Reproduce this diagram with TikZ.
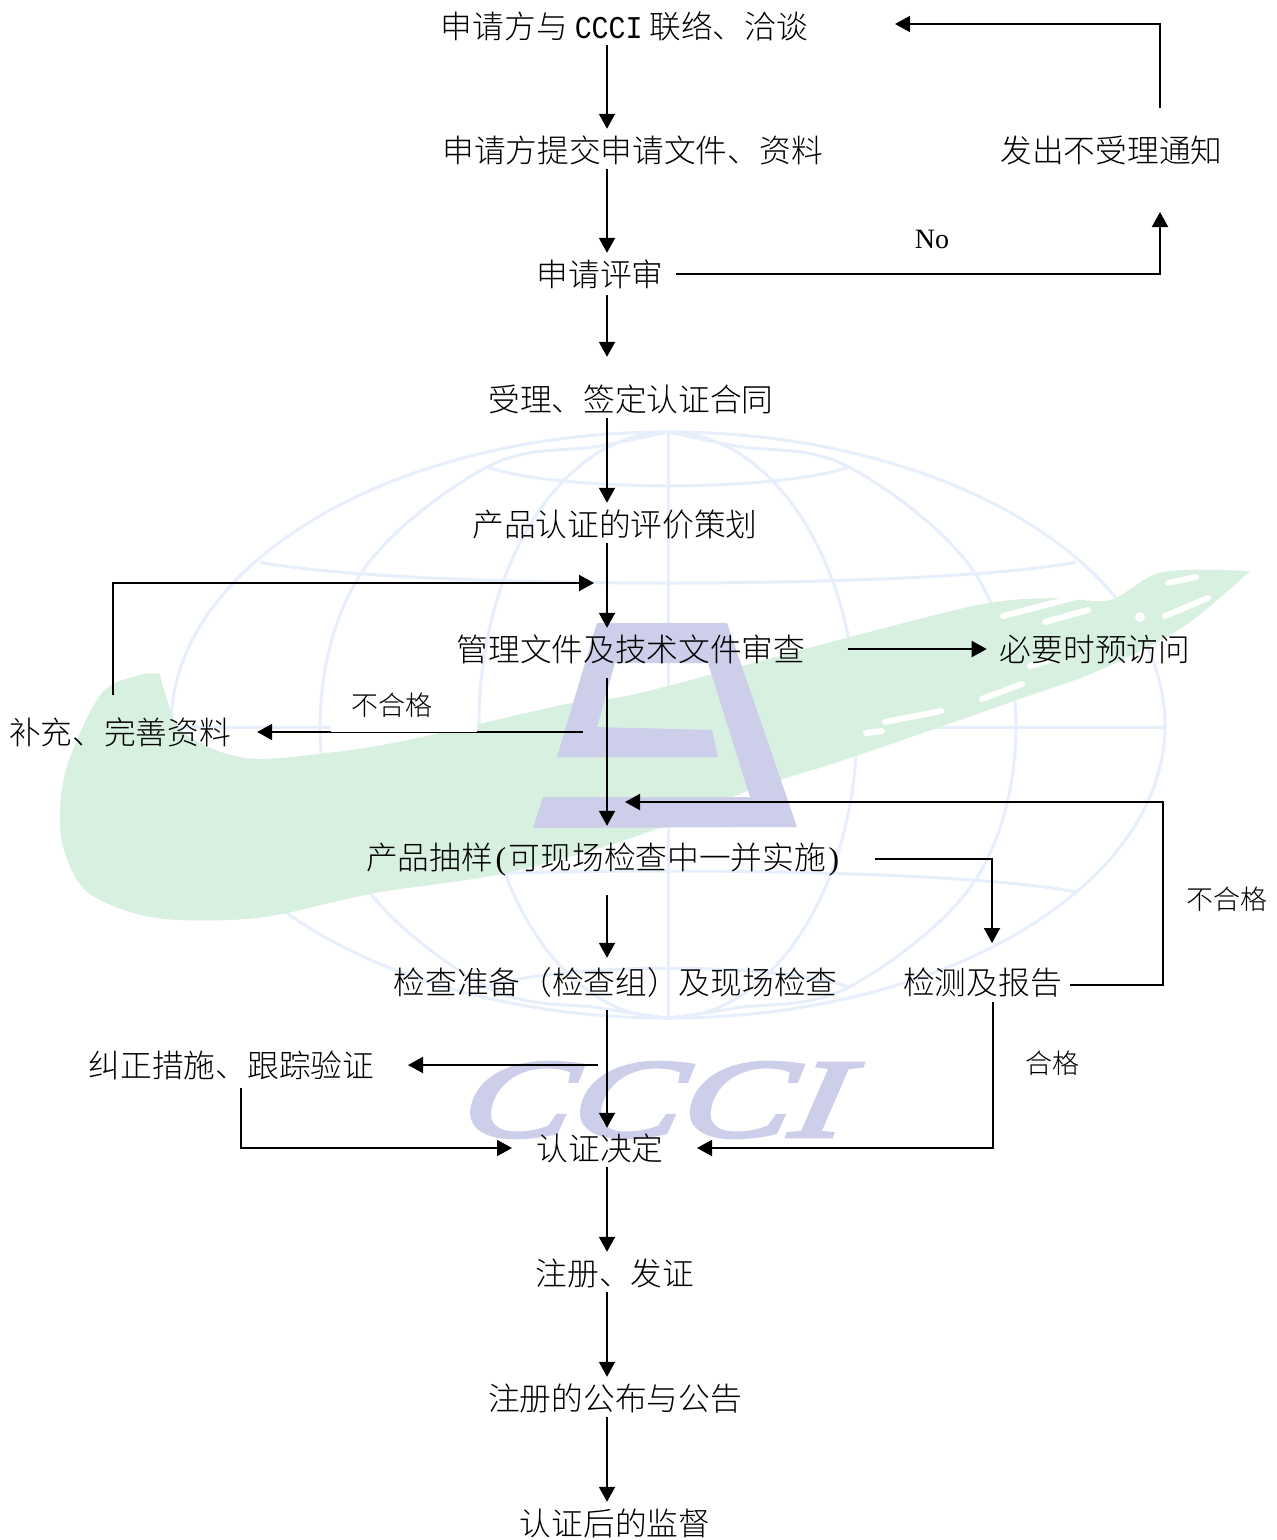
\documentclass[tikz,border=0pt]{standalone}
\usepackage{fontspec}
\usetikzlibrary{arrows.meta}
\setmainfont{Noto Sans CJK SC Light}
\newfontfamily\latinmono{Liberation Mono}[FakeStretch=0.89]
\newfontfamily\latinserif{Liberation Serif}
\newfontfamily\logoserif{Liberation Serif Italic}[FakeBold=3,FakeSlant=0.12]
\definecolor{globeblue}{HTML}{E7EFFC}
\definecolor{swoosh}{HTML}{D8F0E0}
\definecolor{logoblue}{HTML}{CDCEE9}
\newcommand{\hw}[1]{{\latinmono #1}}
\newcommand{\hp}[1]{\makebox[16pt]{\latinserif #1}}
\tikzset{
  x=1pt,y=-1pt,
  lbl/.style={inner sep=0pt,font=\fontsize{31.7}{36}\selectfont,text height=28pt,text depth=4pt},
  smalllbl/.style={inner sep=0pt,font=\fontsize{27}{32}\selectfont,text height=24pt,text depth=3pt},
  flow/.style={line width=2pt,-{Triangle[length=15pt,width=16pt]},shorten <=3pt,shorten >=5pt},
  free/.style={line width=2pt,-{Triangle[length=15pt,width=16pt]}},
  globeline/.style={globeblue,line width=3pt},
  streak/.style={white,line width=6pt,line cap=round},
}
\begin{document}
\begin{tikzpicture}
\useasboundingbox (0,0) rectangle (1277,1540);
\fill[white] (0,0) rectangle (1277,1540);
% logo: globe
\draw[globeline] (668,725) ellipse [x radius=497,y radius=293];
\draw[globeline] plot[smooth,tension=.6] coordinates {(668,432) (600,446) (487,467) (360,575) (320,727) (360,879) (487,987) (600,1008) (668,1018)};
\draw[globeline] plot[smooth,tension=.6] coordinates {(668,432) (736,446) (849,467) (976,575) (1016,727) (976,879) (849,987) (736,1008) (668,1018)};
\draw[globeline] (668,725) ellipse [x radius=189,y radius=293];
\draw[globeline] (668,432) -- (668,1018);
\draw[globeline] (171,727) -- (1165,727);
\draw[globeline] (260,562) .. controls (400,590) and (936,590) .. (1076,562);
\draw[globeline] (260,892) .. controls (400,864) and (936,864) .. (1076,892);
\draw[globeline] (487,467) .. controls (560,492) and (776,492) .. (849,467);
\draw[globeline] (487,987) .. controls (560,962) and (776,962) .. (849,987);
% logo: swoosh
\fill[swoosh] plot[smooth,tension=.55] coordinates {(1250,571) (1163,572) (1110,600) (1057,598) (983,604) (850,637) (640,693) (571,703) (408,740) (326,753) (245,758) (184,733) (165,693) (160,674)}
  -- plot[smooth,tension=.55] coordinates {(160,674) (140,675) (102,693) (69,760) (60,810) (64,850) (85,890) (130,912) (180,920) (265,917) (375,893) (506,873) (640,835) (750,790) (850,758) (1017,700) (1100,670) (1183,627) (1250,571)} -- cycle;
\draw[streak] (1003,616) -- (1088,594);
\draw[streak] (1045,622) -- (1088,610);
\draw[streak] (1165,616) -- (1208,598);
\draw[streak] (1168,583) -- (1196,577);
\draw[streak] (982,699) -- (1022,684);
\draw[streak] (885,722) -- (941,711);
\draw[streak] (866,733) -- (882,731);
\draw[streak] (1030,666) -- (1050,660);
\fill[white] (1140,617) circle [radius=5];
% logo: letter
\fill[logoblue] (597,623) -- (727,623) -- (797,827) -- (533,828) -- (543,797) -- (750,797) -- (708,663) -- (615,663) -- (597,727) -- (712,730) -- (718,757) -- (557,757) -- cycle;
\node[inner sep=0pt,text=logoblue,xscale=1.47,font=\fontsize{112}{112}\logoserif\selectfont] (logoname) at (651,1100) {CCCI};
% nodes
\coordinate (axis) at (607,0);
\node[lbl] (n1) at (624.5,26) {申请方与 \hw{CCCI} 联络、洽谈};
\node[lbl] (n2) at (632.5,150) {申请方提交申请文件、资料};
\node[lbl] (n3) at (600,274) {申请评审};
\node[lbl] (n4) at (631,399) {受理、签定认证合同};
\node[lbl] (n5) at (615,524) {产品认证的评价策划};
\node[lbl] (n6) at (631,649) {管理文件及技术文件审查};
\node[lbl] (n7) at (604,857) {产品抽样\hp{(}可现场检查中一并实施\hp{)}};
\node[lbl] (n8) at (615.5,982) {检查准备（检查组）及现场检查};
\node[lbl] (n9) at (600,1148) {认证决定};
\node[lbl] (n10) at (615,1273) {注册、发证};
\node[lbl] (n11) at (615,1398) {注册的公布与公告};
\node[lbl] (n12) at (615,1523) {认证后的监督};
\node[lbl] (r2) at (1111.5,150) {发出不受理通知};
\node[lbl] (r6) at (1095,649) {必要时预访问};
\node[lbl] (r5) at (120,732) {补充、完善资料};
\node[lbl] (r8) at (231.5,1065) {纠正措施、跟踪验证};
\node[lbl] (t8) at (982.5,982) {检测及报告};
% connector ends
\coordinate (noUp) at (1160,212);
\coordinate (rejStart) at (1160,108);
\coordinate (rejEnd) at (895,24);
\coordinate (suppStart) at (113,695);
\coordinate (suppEnd) at (594,583);
\coordinate (failStart) at (583,732);
\coordinate (sampStart) at (875,859);
\coordinate (sampEnd) at (992,943);
\coordinate (testStart) at (1070,985);
\coordinate (testMid) at (1163,802);
\coordinate (testEnd) at (625,802);
\coordinate (passStart) at (993,1002);
\coordinate (passEnd) at (697,1148);
\coordinate (corrStart) at (598,1065);
\coordinate (corrEnd) at (408,1065);
\coordinate (trackStart) at (241,1088);
\coordinate (trackEnd) at (512,1148);
% main column
\draw[flow] (n1.south -| axis) -- (n2.north -| axis);
\draw[flow] (n2.south -| axis) -- (n3.north -| axis);
\draw[flow,shorten <=5pt,shorten >=26pt] (n3.south -| axis) -- (n4.north -| axis);
\draw[flow] (n4.south -| axis) -- (n5.north -| axis);
\draw[flow] (n5.south -| axis) -- (n6.north -| axis);
\draw[flow,shorten <=13pt,shorten >=15pt] (n6.south -| axis) -- (n7.north -| axis);
\draw[flow,shorten <=22pt,shorten >=8pt] (n7.south -| axis) -- (n8.north -| axis);
\draw[flow,shorten <=12pt,shorten >=4pt] (n8.south -| axis) -- (n9.north -| axis);
\draw[flow] (n9.south -| axis) -- (n10.north -| axis);
\draw[flow] (n10.south -| axis) -- (n11.north -| axis);
\draw[flow] (n11.south -| axis) -- (n12.north -| axis);
% side connectors
\draw[free,shorten <=12pt] (n3.east) -| (noUp);
\draw[free] (rejStart) |- (rejEnd);
\draw[flow,shorten <=42pt,shorten >=13pt] (n6.east) -- (r6.west);
\draw[free] (failStart) -- ([xshift=26pt]r5.east);
\draw[free] (suppStart) |- (suppEnd);
\draw[free] (sampStart) -| (sampEnd);
\draw[free] (testStart) -| (testMid) -- (testEnd);
\draw[free] (passStart) |- (passEnd);
\draw[free] (corrStart) -- (corrEnd);
\draw[free] (trackStart) |- (trackEnd);
% labels
\fill[white] (331,690) rectangle (477,731.5);
\node[inner sep=0pt,font=\fontsize{28}{32}\latinserif\selectfont] (no) at (932,239) {No};
\node[smalllbl] (fail1) at (391.5,705) {不合格};
\node[smalllbl] (fail2) at (1227,899) {不合格};
\node[smalllbl] (pass) at (1052,1063) {合格};
\end{tikzpicture}
\end{document}
